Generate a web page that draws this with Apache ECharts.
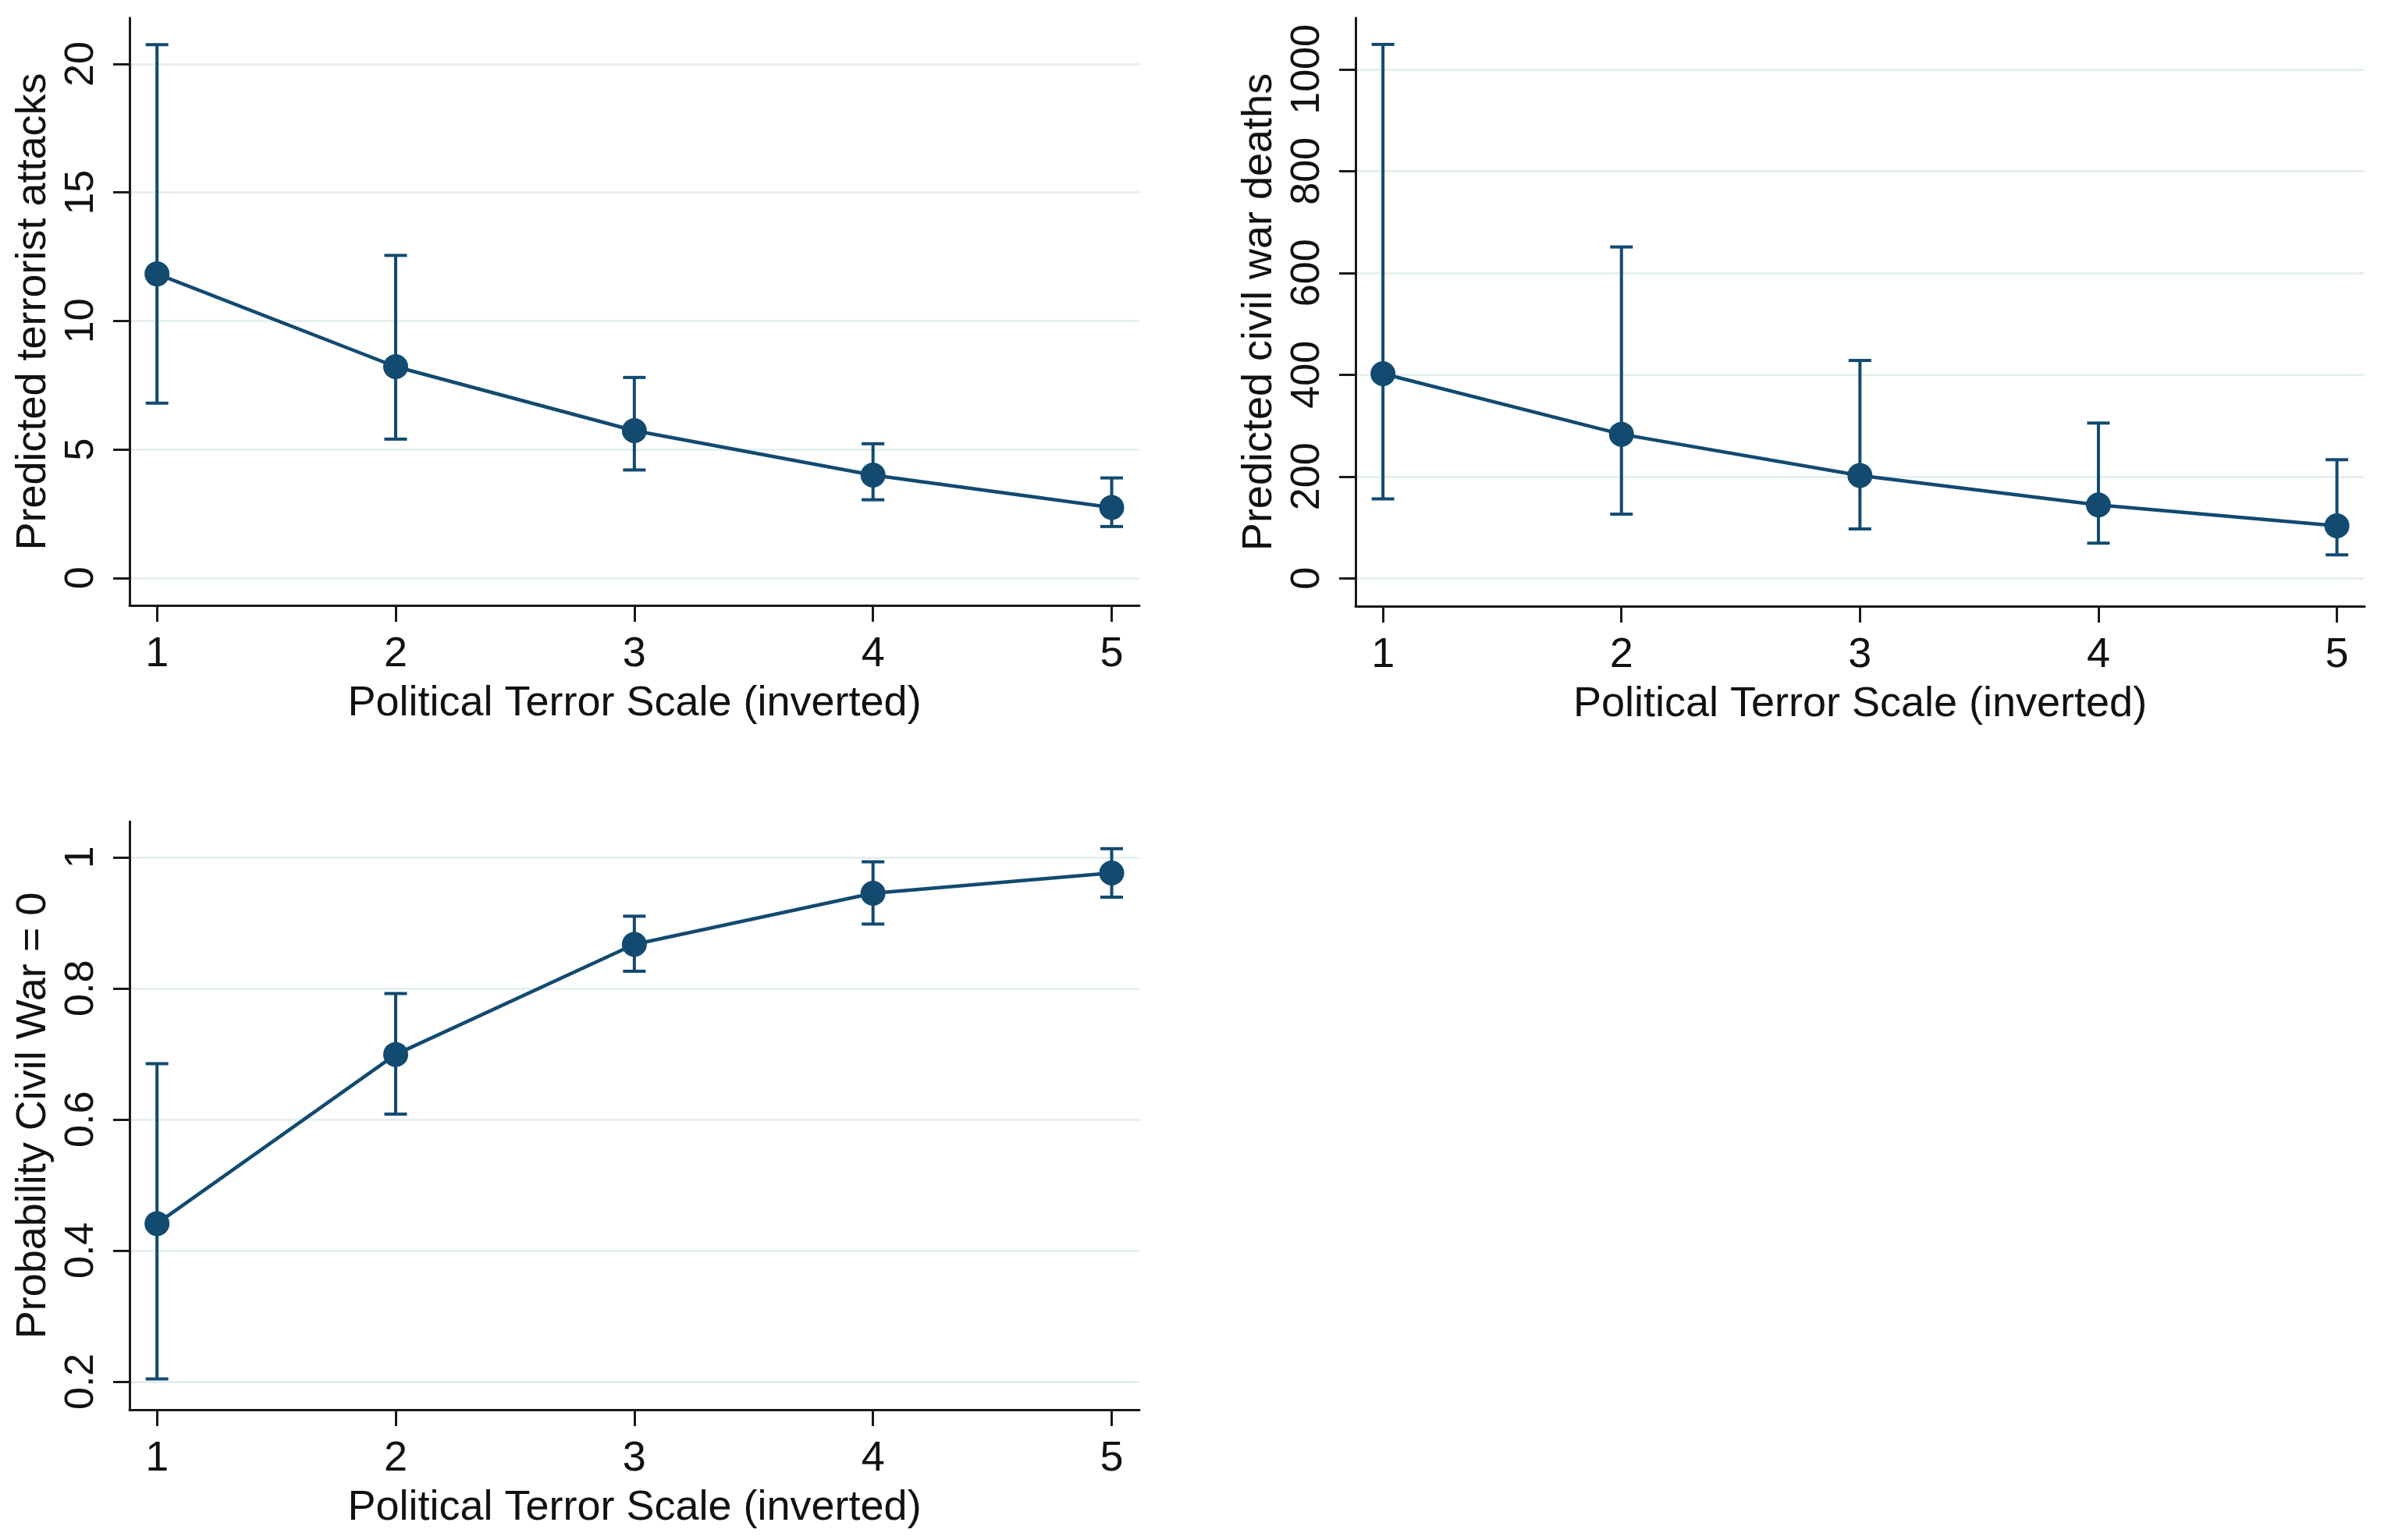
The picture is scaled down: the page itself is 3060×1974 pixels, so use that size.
<!DOCTYPE html>
<html>
<head>
<meta charset="utf-8">
<script src="https://cdn.jsdelivr.net/npm/echarts@6/dist/echarts.min.js"></script>
<style>
html,body{margin:0;padding:0;background:#fff;}
#chart{width:3060px;height:1974px;}
</style>
</head>
<body>
<div id="chart"></div>
<script>
// ---- data ----
const xValues = [1, 2, 3, 4, 5];
const xTicks = [1, 2, 3, 4, 5];

const attacksPred = [11.83, 8.22, 5.73, 4.00, 2.74];
const attacksLo   = [6.80, 5.40, 4.20, 3.04, 2.00];
const attacksHi   = [20.75, 12.55, 7.80, 5.22, 3.89];
const attacksTicks = [0, 5, 10, 15, 20];

const deathsPred = [402, 283, 202, 144, 103];
const deathsLo   = [156, 126, 97, 69, 46];
const deathsHi   = [1049, 651, 428, 305, 233];
const deathsTicks = [0, 200, 400, 600, 800, 1000];

const probPred = [0.441, 0.699, 0.867, 0.945, 0.976];
const probLo   = [0.204, 0.608, 0.826, 0.898, 0.939];
const probHi   = [0.685, 0.792, 0.910, 0.993, 1.013];
const probTicks = [0.2, 0.4, 0.6, 0.8, 1];

const xTitle = 'Political Terror Scale (inverted)';
const yTitles = ['Predicted terrorist attacks', 'Predicted civil war deaths', 'Probability Civil War = 0'];

// ---- styling ----
const NAVY = '#124a70';
const AXIS = '#1a1a1a';
const GRIDC = '#e6eff1';
const FONT = '"Liberation Sans", Arial, Helvetica, sans-serif';
const TXT = '#111111';

const panels = [
  {grid: {left: 166, top: 23, width: 1294, height: 753}, ymin: -1.07, ymax: 21.79, ticks: attacksTicks, pred: attacksPred, lo: attacksLo, hi: attacksHi},
  {grid: {left: 1737, top: 23, width: 1293, height: 754}, ymin: -54.8, ymax: 1101, ticks: deathsTicks, pred: deathsPred, lo: deathsLo, hi: deathsHi},
  {grid: {left: 166, top: 1053, width: 1294, height: 754}, ymin: 0.157, ymax: 1.0545, ticks: probTicks, pred: probPred, lo: probLo, hi: probHi}
];

const grids = [], xAxes = [], yAxes = [], series = [];
panels.forEach((p, i) => {
  grids.push(Object.assign({outerBoundsMode: 'none', containLabel: false}, p.grid));
  xAxes.push({
    type: 'value', gridIndex: i, min: 0.885, max: 5.116,
    name: xTitle, nameLocation: 'middle', nameGap: 99,
    nameTextStyle: {fontFamily: FONT, fontSize: 54, color: TXT},
    axisLine: {show: true, onZero: false, lineStyle: {color: AXIS, width: 3}},
    axisTick: {show: true, length: 21, lineStyle: {color: AXIS, width: 3}, customValues: xTicks},
    axisLabel: {fontFamily: FONT, fontSize: 54, color: TXT, margin: 36, customValues: xTicks,
      formatter: v => String(v)},
    splitLine: {show: false}
  });
  yAxes.push({
    type: 'value', gridIndex: i, min: p.ymin, max: p.ymax,
    name: yTitles[i], nameLocation: 'middle', nameGap: 96,
    nameTextStyle: {fontFamily: FONT, fontSize: 54, color: TXT},
    axisLine: {show: true, onZero: false, lineStyle: {color: AXIS, width: 3}},
    axisTick: {show: true, length: 21, lineStyle: {color: AXIS, width: 3}, customValues: p.ticks},
    axisLabel: {fontFamily: FONT, fontSize: 52, color: TXT, margin: 35, rotate: 90, customValues: p.ticks,
      formatter: v => String(Math.round(v * 1000) / 1000)},
    splitLine: {show: true, lineStyle: {color: GRIDC, width: 3}}
  });
  series.push({
    type: 'custom', xAxisIndex: i, yAxisIndex: i, z: 2,
    data: xValues.map((x, k) => [x, p.lo[k], p.hi[k]]),
    renderItem: function (params, api) {
      const x = api.value(0);
      const a = api.coord([x, api.value(1)]);
      const b = api.coord([x, api.value(2)]);
      const hw = 14.5;
      const st = {stroke: NAVY, lineWidth: 4};
      return {type: 'group', children: [
        {type: 'line', shape: {x1: a[0], y1: a[1], x2: b[0], y2: b[1]}, style: st},
        {type: 'line', shape: {x1: a[0] - hw, y1: a[1], x2: a[0] + hw, y2: a[1]}, style: st},
        {type: 'line', shape: {x1: b[0] - hw, y1: b[1], x2: b[0] + hw, y2: b[1]}, style: st}
      ]};
    }
  });
  series.push({
    type: 'line', xAxisIndex: i, yAxisIndex: i, z: 3,
    data: xValues.map((x, k) => [x, p.pred[k]]),
    symbol: 'circle', symbolSize: 32,
    itemStyle: {color: NAVY},
    lineStyle: {color: NAVY, width: 4.5}
  });
});

const chart = echarts.init(document.getElementById('chart'), null, {renderer: 'canvas'});
chart.setOption({
  backgroundColor: '#ffffff',
  animation: false,
  grid: grids, xAxis: xAxes, yAxis: yAxes, series: series
});
</script>
</body>
</html>
